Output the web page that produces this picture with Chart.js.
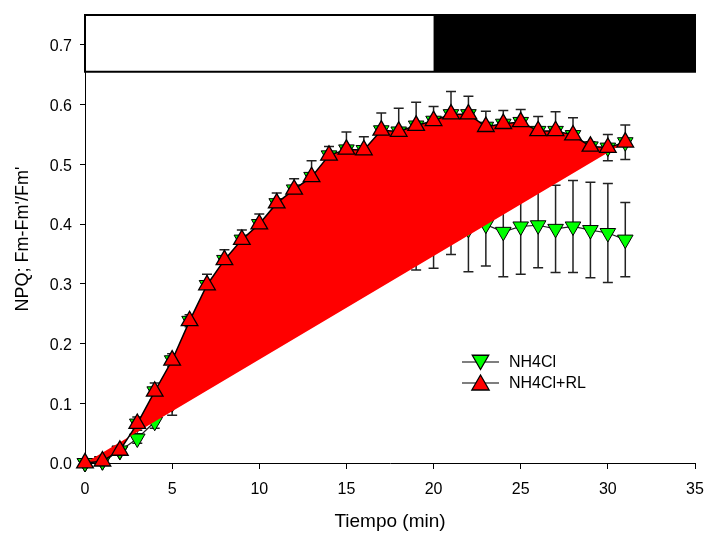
<!DOCTYPE html>
<html><head><meta charset="utf-8">
<script src="https://cdn.jsdelivr.net/npm/chart.js@4.4.0/dist/chart.umd.min.js"></script>
<style>html,body{margin:0;padding:0;background:#fff}#wrap{width:706px;height:533px;position:relative}</style>
</head><body><div id="wrap"><canvas id="c"></canvas></div>
<script>
// ---- data ----
const timeMin = [0,1,2,3,4,5,6,7,8,9,10,11,12,13,14,15,16,17,18,19,20,21,22,23,24,25,26,27,28,29,30,31];
const nh4clRl    = [0,0.003,0.021,0.066,0.120,0.172,0.238,0.298,0.340,0.374,0.400,0.435,0.458,0.479,0.515,0.525,0.524,0.557,0.555,0.565,0.573,0.584,0.584,0.563,0.568,0.571,0.556,0.556,0.549,0.530,0.528,0.537];
const nh4clRlErr = [0.003,0.005,0.006,0.011,0.014,0.011,0.010,0.018,0.017,0.016,0.017,0.017,0.018,0.027,0.015,0.029,0.022,0.029,0.039,0.039,0.024,0.038,0.030,0.026,0.022,0.021,0.024,0.032,0.029,0.008,0.022,0.029];
const nh4cl      = [0,0.003,0.020,0.041,0.069,0.100,0.150,0.190,0.220,0.250,0.280,0.300,0.320,0.340,0.355,0.370,0.380,0.390,0.395,0.400,0.400,0.400,0.392,0.399,0.387,0.396,0.398,0.392,0.396,0.390,0.385,0.374];
const nh4clErr   = [0,0.003,0.005,0.008,0.011,0.020,0.030,0.040,0.050,0.050,0.060,0.060,0.070,0.070,0.070,0.070,0.070,0.070,0.070,0.077,0.074,0.051,0.072,0.069,0.075,0.080,0.071,0.073,0.077,0.080,0.083,0.062];
const xTicks = [0,5,10,15,20,25,30,35];
const yTicks = [0,0.1,0.2,0.3,0.4,0.5,0.6,0.7];
const seriesNames = ['NH4Cl','NH4Cl+RL'];
const periodStart = [0,20];   // light / dark period bar (min)
const periodEnd   = [20,35];
const periodDark  = [false,true];
const xTitle = 'Tiempo (min)';
const yTitle = "NPQ; Fm-Fm'/Fm'";

const FONT = "'Liberation Sans', Arial, Helvetica, sans-serif";
const toPts = (ys) => timeMin.map((t,i)=>({x:t,y:ys[i]}));

function triPath(ctx, x, y, r, down){
  const s = down ? -1 : 1;
  ctx.beginPath();
  ctx.moveTo(x, y - s*r);
  ctx.lineTo(x + 0.866*r, y + s*r/2);
  ctx.lineTo(x - 0.866*r, y + s*r/2);
  ctx.closePath();
}

const errorBars = {
  id:'errorBars',
  beforeDatasetsDraw(chart){
    const {ctx, scales:{x,y}} = chart;
    chart.data.datasets.forEach(ds=>{
      if(!ds.errors) return;
      ctx.save();
      ctx.strokeStyle = '#222'; ctx.lineWidth = 1.5;
      ds.data.forEach((p,j)=>{
        const e = ds.errors[j]; if(!e || e < 0.004) return;
        const px = x.getPixelForValue(p.x);
        const yt = y.getPixelForValue(p.y+e), yb = y.getPixelForValue(p.y-e);
        ctx.beginPath();
        ctx.moveTo(px,yb); ctx.lineTo(px,yt);
        ctx.moveTo(px-5,yt); ctx.lineTo(px+5,yt);
        ctx.moveTo(px-5,yb); ctx.lineTo(px+5,yb);
        ctx.stroke();
      });
      ctx.restore();
    });
  }
};

const periodBar = {
  id:'periodBar',
  afterDatasetsDraw(chart){
    const {ctx, scales:{x,y}} = chart;
    const yTop = y.getPixelForValue(0.75), yBot = y.getPixelForValue(0.655);
    ctx.save();
    periodStart.forEach((s,i)=>{
      const x0 = x.getPixelForValue(s), x1 = x.getPixelForValue(periodEnd[i]);
      ctx.fillStyle = periodDark[i] ? '#000' : '#fff';
      ctx.fillRect(x0, yTop, x1-x0, yBot-yTop);
    });
    const xa = x.getPixelForValue(periodStart[0]), xb = x.getPixelForValue(periodEnd[periodEnd.length-1]);
    ctx.strokeStyle = '#000'; ctx.lineWidth = 2;
    ctx.strokeRect(xa, yTop, xb-xa, yBot-yTop);
    ctx.restore();
  }
};

const legendBox = {
  id:'legendBox',
  afterDraw(chart){
    const {ctx, chartArea:a} = chart;
    const lx0 = a.left + 377, lx1 = a.left + 414, mx = (lx0+lx1)/2, tx = a.left + 424;
    const rows = [a.top + 347, a.top + 368];
    ctx.save();
    ctx.font = '16px ' + FONT; ctx.fillStyle = '#000'; ctx.textBaseline = 'middle';
    rows.forEach((ry,i)=>{
      ctx.strokeStyle = '#000'; ctx.lineWidth = 1.2;
      ctx.beginPath(); ctx.moveTo(lx0, ry); ctx.lineTo(lx1, ry); ctx.stroke();
      const down = i === 0;
      triPath(ctx, mx, ry + (down ? -2 : 2), down ? 9.5 : 10, down);
      ctx.fillStyle = down ? '#00ff00' : '#ff0000'; ctx.fill();
      ctx.lineWidth = 1.3; ctx.stroke();
      ctx.fillStyle = '#000';
      ctx.fillText(seriesNames[i], tx, ry + 1);
    });
    ctx.restore();
  }
};

function noPad(s){ s.paddingLeft = 0; s.paddingRight = 0; s.paddingTop = 0; s.paddingBottom = 0; }

new Chart(document.getElementById('c'), {
  type:'line',
  data:{
    datasets:[
      { label: seriesNames[1], data: toPts(nh4clRl), errors: nh4clRlErr,
        borderColor:'#000', borderWidth:1.5, backgroundColor:'#ff0000', fill:'shape',
        pointStyle:'triangle', pointRadius:9.6, pointBackgroundColor:'#ff0000',
        pointBorderColor:'#000', pointBorderWidth:1.3, clip:false, tension:0 },
      { label: seriesNames[1] + ' marks', data: toPts(nh4clRl),
        showLine:false, fill:false,
        pointStyle:'triangle', rotation:180, pointRadius:9, pointBackgroundColor:'#00ff00',
        pointBorderColor:'#000', pointBorderWidth:1, clip:false },
      { label: seriesNames[0], data: toPts(nh4cl), errors: nh4clErr,
        borderColor:'#222', borderWidth:1.2, fill:false,
        pointStyle:'triangle', rotation:180, pointRadius:9, pointBackgroundColor:'#00ff00',
        pointBorderColor:'#000', pointBorderWidth:1, clip:false, tension:0 }
    ]
  },
  options:{
    responsive:true, maintainAspectRatio:false, animation:false,
    events:[],
    layout:{ padding:{ left:0, right:11, top:15, bottom:0 } },
    plugins:{ legend:{display:false}, tooltip:{enabled:false}, filler:{ drawTime:'beforeDatasetDraw' } },
    scales:{
      x:{ type:'linear', min:0, max:35,
        afterBuildTicks: s => { s.ticks = xTicks.map(v=>({value:v})); },
        afterFit: s => { s.height = 70; noPad(s); },
        grid:{ display:true, drawOnChartArea:false, drawTicks:true, tickLength:6, color:'#000', lineWidth:1 },
        border:{ display:true, color:'#000', width:1 },
        ticks:{ color:'#000', font:{ family:FONT, size:16 }, padding:11, maxRotation:0 },
        title:{ display:true, text:xTitle, color:'#000', font:{ family:FONT, size:19 }, padding:{top:0,bottom:0} }
      },
      y:{ type:'linear', min:0, max:0.75,
        afterBuildTicks: s => { s.ticks = yTicks.map(v=>({value:v})); },
        afterFit: s => { s.width = 85; noPad(s); },
        grid:{ display:true, drawOnChartArea:false, drawTicks:true, tickLength:5, color:'#000', lineWidth:1 },
        border:{ display:true, color:'#000', width:1 },
        ticks:{ color:'#000', font:{ family:FONT, size:16 }, padding:8, labelOffset:2, callback: v => Number(v).toFixed(1) },
        title:{ display:true, text:yTitle, color:'#000', font:{ family:FONT, size:18 }, padding:{top:12,bottom:0} }
      }
    }
  },
  plugins:[errorBars, periodBar, legendBox]
});
</script></body></html>
